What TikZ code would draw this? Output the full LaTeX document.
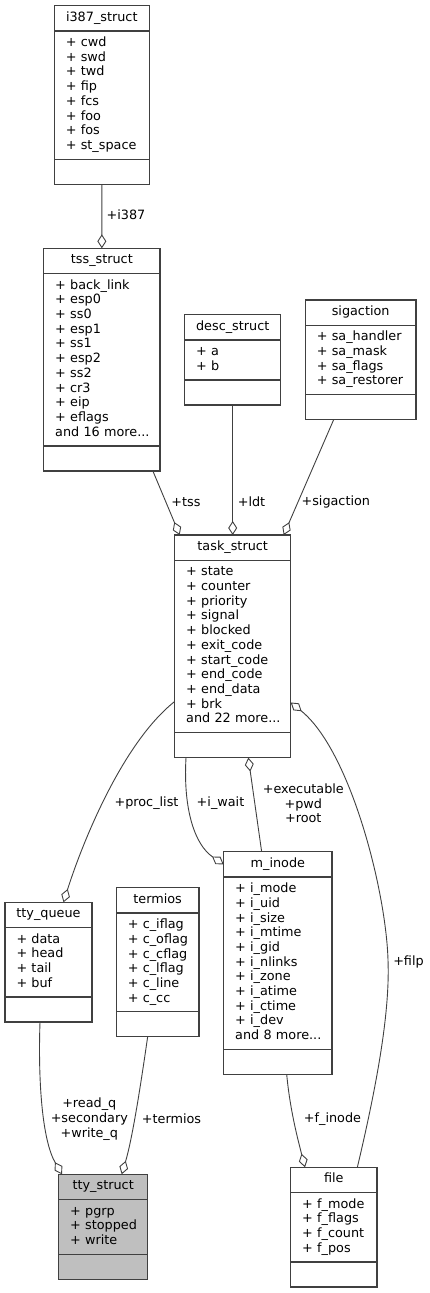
\documentclass[tikz,border=0pt]{standalone}
\usepackage{fontspec}
\setmainfont{DejaVu Sans}
\usetikzlibrary{arrows.meta,positioning,calc}

\definecolor{boxline}{HTML}{404040}
\definecolor{edgeline}{HTML}{404040}
\definecolor{focusfill}{HTML}{BFBFBF}

\tikzset{
  classtitle/.style={draw=boxline, line width=1.2pt, inner sep=0pt, outer sep=0pt,
    anchor=north west, minimum height=25.3pt, text height=10.3pt, text depth=4.4pt},
  classbody/.style={draw=boxline, line width=1.2pt, inner xsep=11.5pt, inner ysep=0pt,
    outer sep=0pt, align=left, execute at begin node=\strut, execute at end node=\strut},
  classfoot/.style={draw=boxline, line width=1.2pt, inner sep=0pt, outer sep=0pt,
    minimum height=25pt},
  aggr/.style={draw=edgeline, line width=0.9pt, -{Diamond[open, length=14pt, width=9pt]}},
  rolelabel/.style={inner sep=0pt, align=center}
}

\begin{document}
\begin{tikzpicture}[x=1pt, y=-1pt, font=\fontsize{12.8}{14.7}\selectfont]
    \useasboundingbox (0,0) rectangle (430,1293);

    % i387_struct
    \node[classtitle, minimum width=95pt] (i387) at (54.3,5.7) {i387\_struct};
    \node[classbody, text width=72pt, minimum height=128.2pt, below=0pt of i387] (i387m)
      {+~cwd\\+~swd\\+~twd\\+~fip\\+~fcs\\+~foo\\+~fos\\+~st\_space};
    \node[classfoot, minimum width=95pt, below=0pt of i387m] (i387e) {};

    % tss_struct
    \node[classtitle, minimum width=116.3pt] (tss) at (43.7,248.3) {tss\_struct};
    \node[classbody, text width=93.3pt, minimum height=172.3pt, below=0pt of tss] (tssm)
      {+~back\_link\\+~esp0\\+~ss0\\+~esp1\\+~ss1\\+~esp2\\+~ss2\\+~cr3\\+~eip\\+~eflags\\and~16~more...};
    \node[classfoot, minimum width=116.3pt, below=0pt of tssm] (tsse) {};

    % desc_struct
    \node[classtitle, minimum width=96pt] (desc) at (184.7,314.7) {desc\_struct};
    \node[classbody, text width=73pt, minimum height=40pt, below=0pt of desc] (descm)
      {+~a\\+~b};
    \node[classfoot, minimum width=96pt, below=0pt of descm] (desce) {};

    % sigaction
    \node[classtitle, minimum width=110.7pt] (sigact) at (305.3,300) {sigaction};
    \node[classbody, text width=87.7pt, minimum height=69.4pt, below=0pt of sigact] (sigactm)
      {+~sa\_handler\\+~sa\_mask\\+~sa\_flags\\+~sa\_restorer};
    \node[classfoot, minimum width=110.7pt, below=0pt of sigactm] (sigacte) {};

    % task_struct
    \node[classtitle, minimum width=116pt] (task) at (174.7,535) {task\_struct};
    \node[classbody, text width=93pt, minimum height=172.3pt, below=0pt of task] (taskm)
      {+~state\\+~counter\\+~priority\\+~signal\\+~blocked\\+~exit\_code\\+~start\_code\\+~end\_code\\+~end\_data\\+~brk\\and~22~more...};
    \node[classfoot, minimum width=116pt, below=0pt of taskm] (taske) {};

    % m_inode
    \node[classtitle, minimum width=108.3pt] (minode) at (223.7,851.7) {m\_inode};
    \node[classbody, text width=85.3pt, minimum height=172.3pt, below=0pt of minode] (minodem)
      {+~i\_mode\\+~i\_uid\\+~i\_size\\+~i\_mtime\\+~i\_gid\\+~i\_nlinks\\+~i\_zone\\+~i\_atime\\+~i\_ctime\\+~i\_dev\\and~8~more...};
    \node[classfoot, minimum width=108.3pt, below=0pt of minodem] (minodee) {};

    % tty_queue
    \node[classtitle, minimum width=87pt] (ttyq) at (5,902.3) {tty\_queue};
    \node[classbody, text width=64pt, minimum height=69.4pt, below=0pt of ttyq] (ttyqm)
      {+~data\\+~head\\+~tail\\+~buf};
    \node[classfoot, minimum width=87pt, below=0pt of ttyqm] (ttyqe) {};

    % termios
    \node[classtitle, minimum width=82.7pt] (termios) at (116.3,887.7) {termios};
    \node[classbody, text width=59.7pt, minimum height=98.8pt, below=0pt of termios] (termiosm)
      {+~c\_iflag\\+~c\_oflag\\+~c\_cflag\\+~c\_lflag\\+~c\_line\\+~c\_cc};
    \node[classfoot, minimum width=82.7pt, below=0pt of termiosm] (termiose) {};

    % tty_struct (the documented class)
    \node[classtitle, fill=focusfill, minimum width=89pt] (ttys) at (58.7,1174.3) {tty\_struct};
    \node[classbody, fill=focusfill, text width=66pt, minimum height=54.7pt, below=0pt of ttys] (ttysm)
      {+~pgrp\\+~stopped\\+~write};
    \node[classfoot, fill=focusfill, minimum width=89pt, below=0pt of ttysm] (ttyse) {};

    % file
    \node[classtitle, minimum width=86.3pt] (file) at (290.7,1167.3) {file};
    \node[classbody, text width=63.3pt, minimum height=69.4pt, below=0pt of file] (filem)
      {+~f\_mode\\+~f\_flags\\+~f\_count\\+~f\_pos};
    \node[classfoot, minimum width=86.3pt, below=0pt of filem] (filee) {};

    % aggregations into tss_struct and task_struct
    \draw[aggr] (i387e.south) -- (tss.north);
    \node[rolelabel] (li387) at (126,215) {+i387};

    \draw[aggr] ($(tsse.south)+(51,0)$) -- ($(task.north)+(-53,0)$);
    \node[rolelabel] (ltss) at (186,502) {+tss};
    \draw[aggr] (desce.south) -- (task.north);
    \node[rolelabel] (lldt) at (251.5,502) {+ldt};
    \draw[aggr] ($(sigacte.south)+(-27,0)$) -- ($(task.north)+(51,0)$);
    \node[rolelabel] (lsig) at (335.8,502) {+sigaction};

    % edges below task_struct
    \draw[aggr] ($(taskm.west)+(0,55)$) .. controls (120,745) and (80,850) .. ($(ttyq.north)+(15,0)$);
    \node[rolelabel] (lproc) at (146.5,803) {+proc\_list};
    \draw[aggr] ($(taske.south)+(-46.7,0)$) .. controls (183,810) and (195,845) .. (minode.west);
    \node[rolelabel] (lwait) at (220.5,803) {+i\_wait};
    \draw[aggr] ($(minode.north)+(-16.2,0)$) -- ($(taske.south)+(15.6,0)$);
    \node[rolelabel] (lexec) at (303.3,803.3) {+executable\\+pwd\\+root};
    \draw[aggr] ($(file.north)+(23.5,0)$) .. controls (378,1080) and (390,1010) .. (388,960)
      .. controls (386,890) and (350,750) .. ($(taskm.east)+(0,56)$);
    \node[rolelabel] (lfilp) at (408.5,961.7) {+filp};

    % edges into tty_struct and file
    \draw[aggr] ($(ttyqe.south)+(-8.5,0)$) .. controls (38,1080) and (42,1140) .. ($(ttys.north)+(-41.2,0)$);
    \node[rolelabel] (lqueue) at (89.3,1119) {+read\_q\\+secondary\\+write\_q};
    \draw[aggr] ($(termiose.south)+(-10,0)$) .. controls (140,1090) and (132,1140) .. ($(ttys.north)+(18.5,0)$);
    \node[rolelabel] (lterm) at (171.5,1119) {+termios};
    \draw[aggr] ($(minodee.south)+(8.85,0)$) .. controls (290,1110) and (298,1140) .. ($(file.north)+(-28.85,0)$);
    \node[rolelabel] (linode) at (332.5,1119) {+f\_inode};
\end{tikzpicture}
\end{document}
